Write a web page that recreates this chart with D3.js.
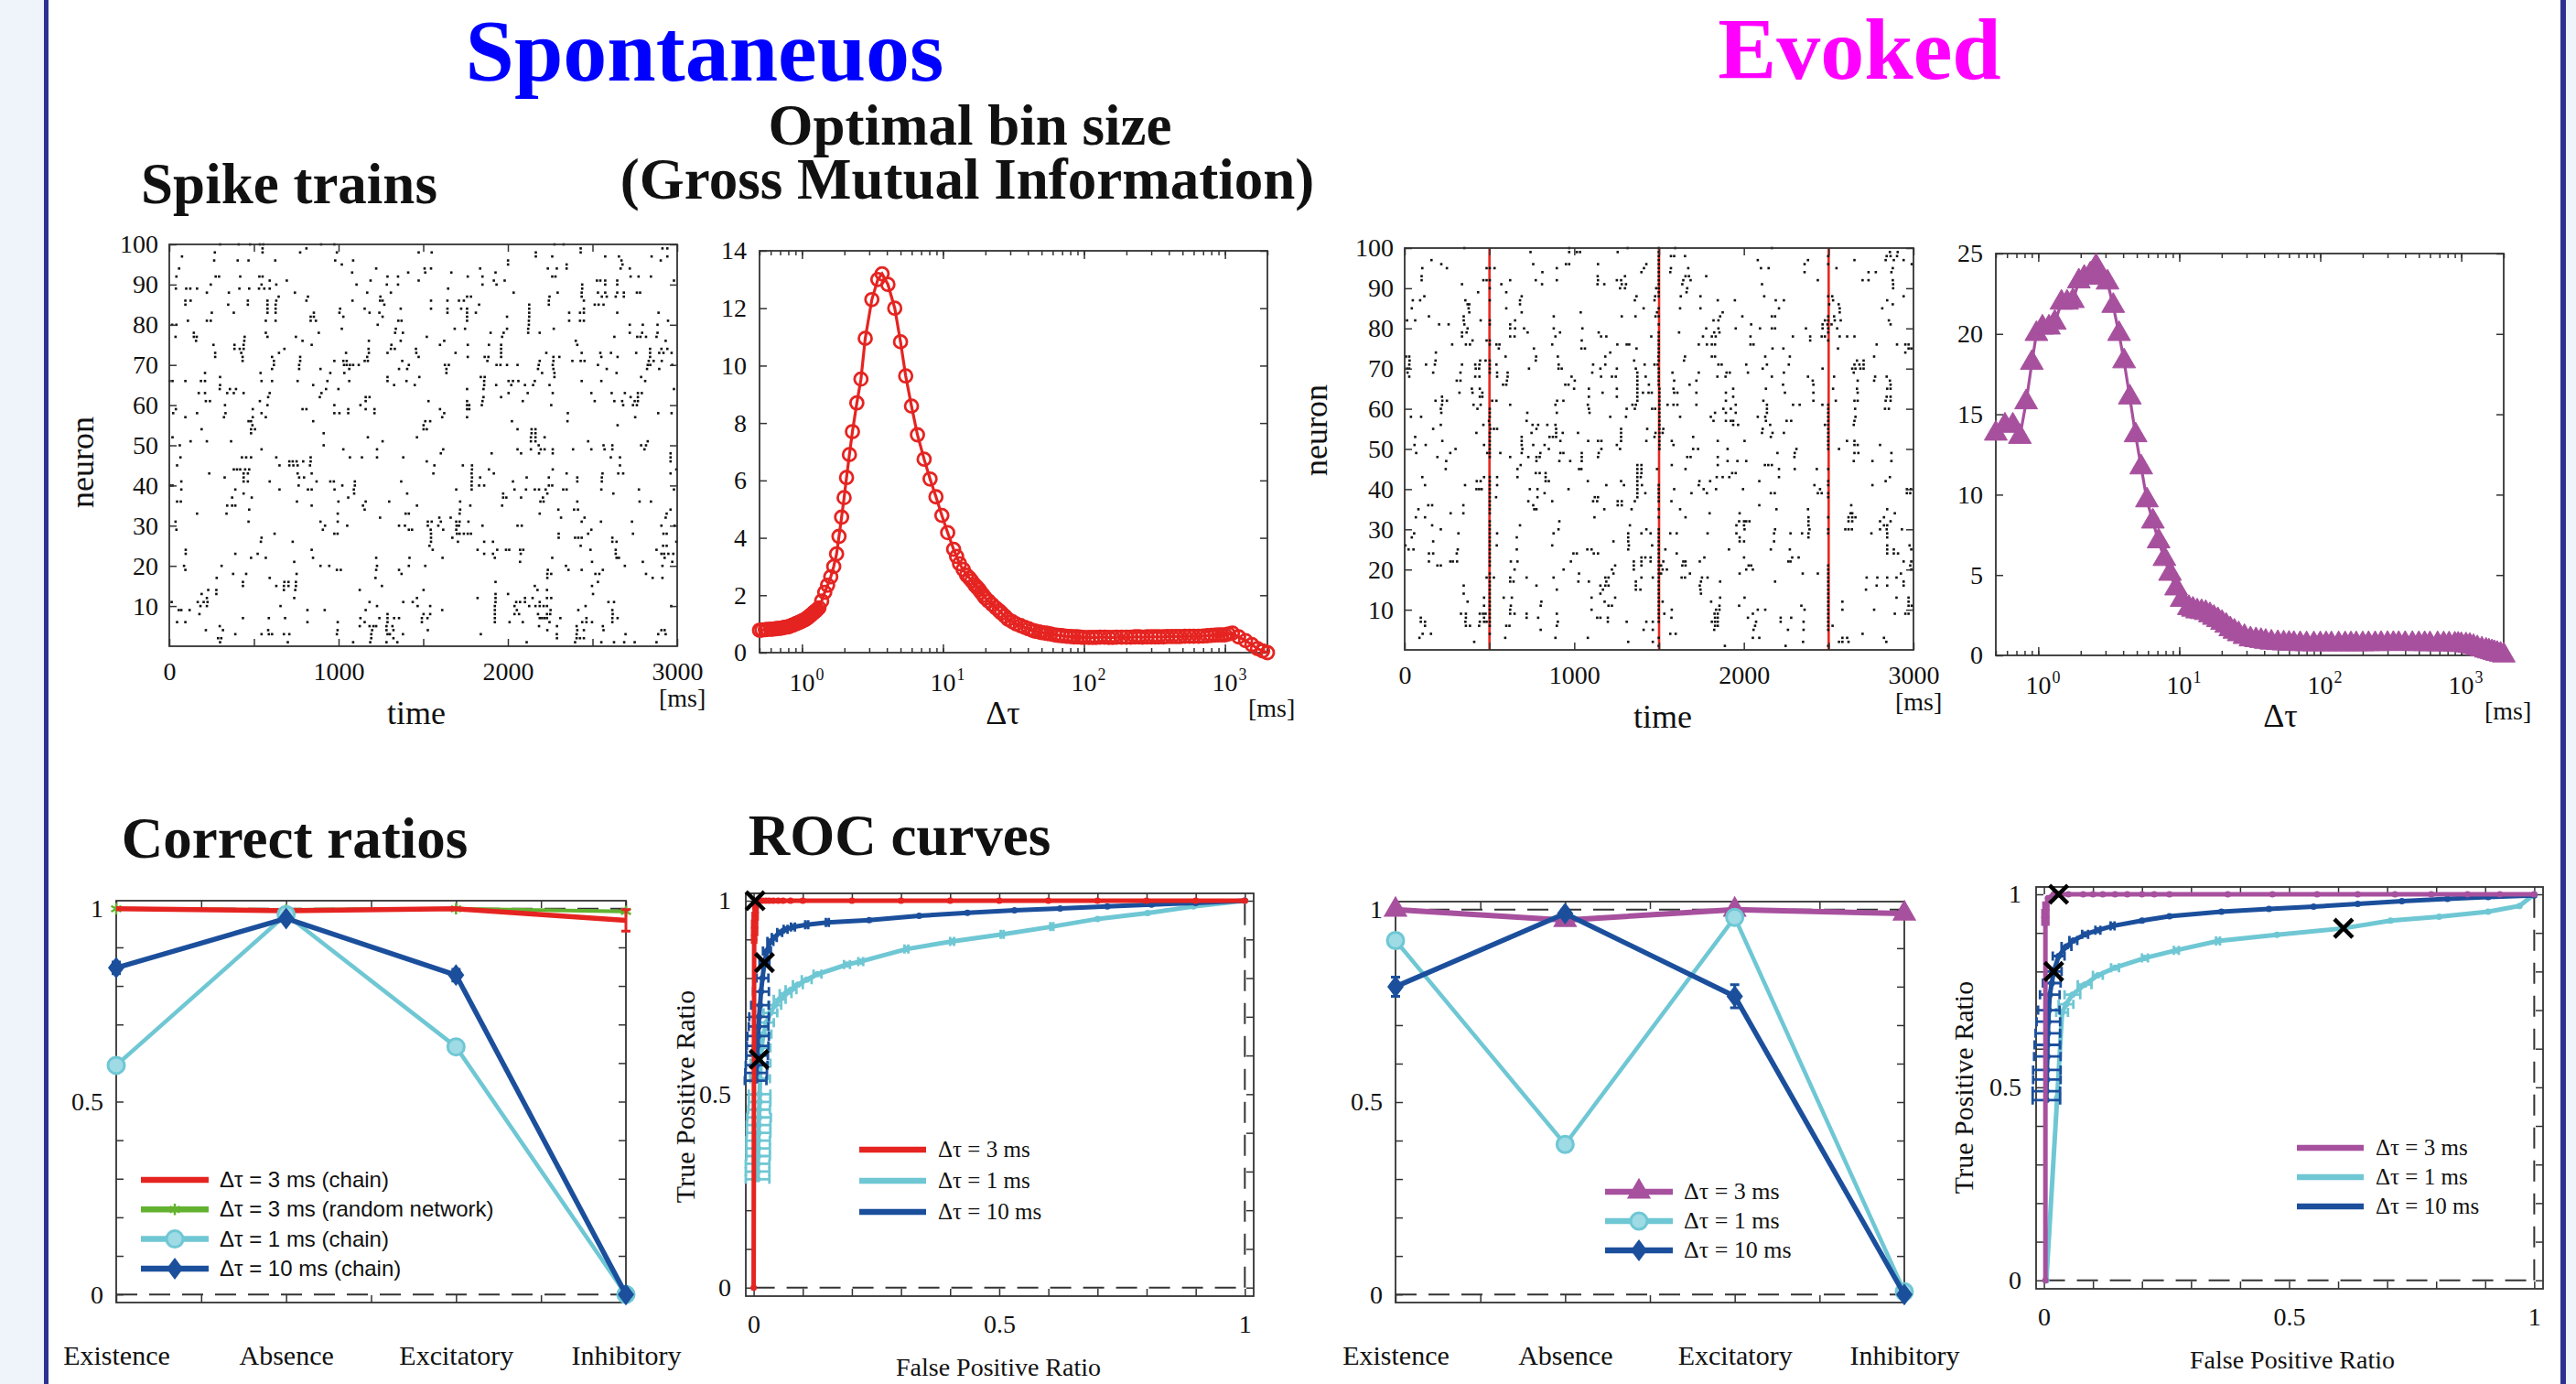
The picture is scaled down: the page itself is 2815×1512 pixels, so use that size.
<!DOCTYPE html>
<html>
<head>
<meta charset="utf-8">
<script src="https://cdn.jsdelivr.net/npm/d3@7"></script>
<style>
  body { margin: 0; background: #fff; }
  svg { display: block; }
</style>
</head>
<body>
<div id="fig"></div>
<script>
// ---------- data ----------
// spike trains: [neuron, [spike times in ms]]
const spontSpikes = [
  [100,[300,410,477,535,555,897,975,2275,2329]],
  [99,[551,810,2430,2913,2942]],
  [98,[269,551,773,990,1473,1550,2165,2430]],
  [97,[75,2165,2262,2575,2656,2849,2942]],
  [96,[265,404,468,626,980,1086,2001,2671,2903]],
  [95,[1019,2001,2347,2677]],
  [94,[58,1222,1508,1546,1836,2236,2289,2347,2666,2720]],
  [93,[1080,1411,1512,1666,1927]],
  [92,[42,274,294,419,532,551,1289,1351,1763,1850,2262,2281,2725,2772,2845]],
  [91,[593,694,1189,1473,1917,1981,2526,2546,2575,2646,2981]],
  [90,[245,545,632,1106,1285,1351,1850,1933,2439,2575,2646]],
  [89,[39,100,124,164,414,472,530,561,593,1647,2439]],
  [88,[222,352,742,1169,1309,2034,2294,2436,2532,2575,2646,2685,2762,2781]],
  [87,[646,819,1247,1759,1782,2246,2436,2555,2584,2637,2685]],
  [86,[95,126,464,580,632,810,1082,1245,1260,1546,1643,1711,1740,2242,2449]],
  [85,[95,348,464,580,628,1270,1830,2126,2242,2513,2536,2565]],
  [84,[580,628,1009,1154,1367,1546,1643,1724,1759,2126,2449]],
  [83,[251,381,580,628,854,1005,1183,1241,1643,1759,1811,2126,2362,2426,2449,2646,2890]],
  [82,[835,854,1028,1260,1759,1995,2126]],
  [81,[110,222,245,570,628,835,866,1353,1372,1759,2124,2362,2426,2449,2946]],
  [80,[17,42,1231,2124,2720,2797,2884]],
  [79,[1019,1338,1686,1747,1995,2120,2271]],
  [78,[145,570,883,1334,1380,1898,1975,2120,2188,2720,2793,2884]],
  [77,[37,145,162,445,580,748,1521,1966,2629,2764,2783,2816,2878]],
  [76,[158,443,787,1179,1367,1624,2401,2932]],
  [75,[261,385,439,841,1312,1599,1763,1888,1960,2410]],
  [74,[385,416,439,680,1177,1309,1332,1457,1960,2840,2907,2942]],
  [73,[271,425,648,1044,1179,1289,1459,1691,1960,2227,2436,2546,2609,2758,2840,2894,2919,2967]],
  [72,[271,433,607,773,1169,1473,1763,1863,1885,1960,2269,2304,2552,2648,2840]],
  [71,[433,618,773,975,1028,1048,1154,1173,1376,1879,2188,2269,2381,2430,2453,2832,2861,2909]],
  [70,[618,767,1032,1048,1067,1086,1119,1415,1628,1651,1933,1956,1995,2057,2182,2265,2532,2826,2841,2971]],
  [69,[607,767,893,1063,1357,1405,1637,2178,2269,2584,2822,2894]],
  [68,[211,539,951,1034,1637,2202,2275,2642]],
  [67,[300,1289,1477,1840,1863,2275,2787]],
  [66,[2,19,95,187,211,545,607,758,934,1063,1289,1401,1860,2004,2030,2062,2159,2436,2552,2811]],
  [65,[300,850,1328,1450,1860,1931,2020,2101,2149,2246]],
  [64,[298,358,394,926,999,1759,1856,2981]],
  [63,[174,211,342,381,439,593,899,2004,2117,2265,2493,2613,2691,2768,2791]],
  [62,[584,889,1160,1183,1856,1960,2725,2768]],
  [61,[216,240,535,1160,1531,1759,1850,2088,2513,2629,2675,2749,2768]],
  [60,[329,580,975,1129,1759,1772,1846,2256,2681,2739,2762]],
  [59,[39,493,787,810,1057,1160,1212,1599,1759,1772]],
  [58,[23,164,332,545,975,1005,1057,1212,1624,2354,2888,2967]],
  [57,[95,323,493,570,1612,1759,2752]],
  [56,[468,483,850,1512,1541,2024,2352]],
  [55,[491,1502,2648]],
  [54,[191,483,506,1502,1521,2057,2140,2163]],
  [53,[483,912,2140,2163]],
  [52,[19,1173,1463,2136,2163,2217]],
  [51,[126,222,365,1260,2136,2163,2474,2826]],
  [50,[62,912,2182,2565,2617,2787,2816]],
  [49,[545,1028,1227,1618,2057,2136,2194,2217,2265,2385,2493,2571,2617,2807]],
  [48,[1604,1904,2078,2184,2265,2961]],
  [47,[66,429,454,483,632,835,1067,1138,1227,1382,2608,2662,2961]],
  [46,[709,729,752,791,835,1521,2961]],
  [45,[46,651,709,733,758,831,1566,1734,1788,2662]],
  [44,[381,400,419,448,472,1788,1888,2265,2995]],
  [43,[236,439,464,758,841,1560,1786,1917,2347,2559,2652,2681,2961]],
  [42,[327,439,767,796,1788,1836,2111,2242,2410,2555]],
  [41,[71,439,464,593,870,951,972,1096,1370,1786,2030,2410,2555]],
  [40,[4,19,764,1022,1096,1786,1830,1860,2242,2262]],
  [39,[71,390,651,819,841,976,1090,1695,1786,2039,2107,2159,2184,2223,2327,2347,2552,2774,2981]],
  [38,[439,1092,1405,1972,2233,2623]],
  [37,[371,487,1057,1972,1991,2078,2207]],
  [36,[46,68,754,999,1160,1299,1718,2192,2211,2410,2778,2845]],
  [35,[342,371,390,841,1144,1463,1778,1966]],
  [34,[472,1154,1718,2298,2391,2414,2961]],
  [33,[164,338,995,1396,1415,1715,2188,2938]],
  [32,[1245,1595,1662,2314,2453,2932]],
  [31,[37,468,893,995,1527,1550,1604,1695,1715,1767,2436,2550,2733]],
  [30,[920,1051,1357,1392,1527,1589,1697,1711,1850,2057,2082,2907,2985]],
  [29,[42,907,1415,1434,1544,1618,1695,2493]],
  [28,[622,975,994,1546,1699,1715,1740,1763,1782,2300,2474,2739,2919,2938]],
  [27,[545,1546,1672,2300,2397,2416,2436,2617]],
  [26,[541,729,1546,1705,1860,1912,2617,2642,2995]],
  [25,[1537,2430,2917,2938]],
  [24,[97,841,1556,1821,1937,1989,2008,2072,2091,2488,2637,2878]],
  [23,[97,390,522,1860,1912,2076,2637,2907,2923,2948,2977]],
  [22,[483,570,849,1222,1419,1614,1923,2262,2642,2656,2926]],
  [21,[738,2072,2497,2797,2971]],
  [20,[87,309,893,945,1227,1415,1512,2343,2691,2913]],
  [19,[95,990,1013,1222,1357,2236,2358,2436,2561]],
  [18,[377,454,752,1372,2233,2256,2517,2540,2816]],
  [17,[280,593,1218,2233,2855,2913]],
  [16,[435,680,704,748,1927,2532]],
  [15,[435,632,677,704,748,1256,2159,2497]],
  [14,[230,278,677,744,1125,1502,2175,2231]],
  [13,[191,278,1927,2001,2503]],
  [12,[222,738,1463,1821,1927,2101,2146,2231,2256]],
  [11,[14,168,203,226,1183,1382,1438,1927,2049,2072,2101,2188,2594,2627]],
  [10,[184,222,657,1227,1467,1541,1923,2039,2126,2163,2188,2211,2231,2459,2965]],
  [9,[56,71,120,816,918,1160,1612,1923,2053,2252,2416,2617]],
  [8,[178,1289,1502,1541,1923,2039,2066,2178,2231,2250,2619]],
  [7,[435,588,684,1129,1241,1289,1328,1357,1492,1525,1923,2188,2202,2217,2231,2310,2464,2617,2648]],
  [6,[46,95,816,995,1154,1289,1492,1923,2010,2088,2246,2439,2464,2497,2617]],
  [5,[298,1125,1183,1206,1222,1283,1318,2184,2290,2406,2561]],
  [4,[216,317,584,994,1198,1283,1324,1527,2233,2410,2449,2565,2907,2926]],
  [3,[390,545,588,607,677,709,990,1193,1289,1303,1380,1840,2289,2406,2695,2888,2932]],
  [2,[288,307,1193,1324,2290,2406,2426,2449]],
  [1,[300,700,1086,1187,1283,1347,2111,2397,2552,2627,2687,2749,2878]]
];

const evokedSpikes = [
  [100,[352,970,1314,1498,1595,2165]],
  [99,[742,970,1015,1034,1256,1498,2861,2907]],
  [98,[1498,1570,1589,1653,2497,2842,2865,2903]],
  [97,[158,1498,2082,2378,2652,2836,2884,2942]],
  [96,[216,758,951,970,1140,1425,1498,2358,2497,2990]],
  [95,[104,249,483,502,530,897,1411,1498,1570,1672,2101,2146,2546,2878]],
  [94,[812,1396,1498,1566,2358,2735,2778,2870]],
  [93,[100,1138,1299,1498,1656,1676,1778]],
  [92,[100,464,483,502,622,773,897,1140,1251,1276,1498,1643,1686,2436,2700,2735,2878]],
  [91,[338,570,810,1137,1177,1280,1305,1498,1637,2107,2880]],
  [90,[502,1270,1299,1483,1498,1666,2880]],
  [89,[433,599,1498,1662]],
  [88,[116,690,1367,1477,1498,1628,1744,2120,2497,2521,2942]],
  [87,[48,91,358,502,680,1357,1473,1846,1947,2188,2236,2526,2845]],
  [86,[371,381,680,2503,2559,2878]],
  [85,[42,377,599,1409,1498,1624,1744,2207,2565,2816]],
  [84,[381,690,1038,1488,1875,2565]],
  [83,[143,348,879,1280,1361,1479,1498,1860,1991,2165,2184,2497,2532]],
  [82,[14,62,348,448,502,651,1821,1850,2478,2497,2536,2571,2855]],
  [81,[203,259,352,502,622,1498,2043,2464,2493,2517,2865]],
  [80,[371,622,651,704,879,1048,1778,1850,1952,2095,2165,2184,2366,2464,2497,2550]],
  [79,[338,365,725,916,1144,1498,1618,1825,1856,2497]],
  [78,[338,622,648,889,1158,1189,1454,1498,1759,1811,1834,2039,2289,2391,2459,2478,2565,2609,2652]],
  [77,[400,483,502,1044,1498,2391,2497]],
  [76,[280,361,385,502,541,559,870,1254,1309,1324,1498,1734,1782,1811,1830,2039,2057,2783,2903,2952,2971]],
  [75,[555,762,1042,1063,1367,1498,2169,2233,2555,2971,2987]],
  [74,[184,1212,1498,2952]],
  [73,[8,27,595,775,903,1183,1496,1653,1811,1830,2126,2271,2768]],
  [72,[29,182,445,477,502,773,1353,1498,1647,2667,2706]],
  [71,[27,126,178,338,416,441,502,541,908,1111,1183,1415,1473,1492,1850,1869,2014,2136,2265,2652,2681,2706]],
  [70,[14,27,419,439,502,733,907,926,1154,1251,1363,1498,2111,2464,2639,2658,2687,2706]],
  [69,[17,168,329,502,545,607,1106,1372,1498,1579,1734,1898,1917,2024,2236,2648]],
  [68,[27,416,441,545,607,984,1158,1222,1245,1372,1421,1498,1844,1892,2165,2378,2532,2774,2842]],
  [67,[307,329,603,1003,1372,1498,1589,1720,2406,2671,2768,2861]],
  [66,[580,599,947,966,1372,1440,1498,1680,2231,2410,2865]],
  [65,[396,443,999,1086,1251,1372,1502,1585,1937,2130,2526,2667,2845,2865]],
  [64,[323,400,458,1167,1372,1405,1438,1457,1502,1589,1608,1720,1894,2242,2410,2671]],
  [63,[220,443,458,1086,1251,1372,1502,1937,2842,2865]],
  [62,[182,222,249,516,541,899,936,1372,1502,1894,2115,2410,2542,2652,2671,2836,2865]],
  [61,[220,406,448,622,889,1080,1343,1363,1502,1550,1585,1608,1720,1952,2136,2290,2329,2463,2497]],
  [60,[213,429,502,1086,1309,1357,1459,1477,1502,1879,1923,2136,2497,2656,2832,2855]],
  [59,[216,502,723,897,1090,1502,1830,1894,1952,2136,2497]],
  [58,[37,97,502,1212,1305,1502,1624,1805,2082,2126,2497,2658]],
  [57,[497,719,1502,1821,1894,1923,1937,2130,2252,2279,2497,2652]],
  [56,[213,464,502,754,787,841,889,1502,1937,1966,2155,2478,2497,2648]],
  [55,[168,506,526,545,777,893,1276,1430,1502,1525,2111,2497]],
  [54,[423,502,748,893,932,1022,1276,1479,1502,1521,2107,2169,2236,2497]],
  [53,[62,502,690,854,874,893,1276,1473,1502,1701,2159,2497]],
  [52,[222,502,690,918,1082,1140,1160,1276,1425,1502,1575,1846,2004,2497,2608,2652]],
  [51,[58,124,468,502,690,758,825,1251,1502,1585,2497,2652,2671,2803]],
  [50,[300,502,694,850,1160,1270,1502,1701,1730,1904,2310,2497,2561]],
  [49,[68,269,487,502,564,690,800,918,936,1044,1144,2198,2300,2652,2675,2870]],
  [48,[193,502,622,729,777,796,1044,1140,1666,1686,1846,2298]],
  [47,[245,777,912,976,1044,1904,1962,2014,2648,2758,2870]],
  [46,[684,1372,1396,1575,1846,2124,2144,2165]],
  [45,[242,665,1028,1042,1372,1396,1488,1656,2207,2300,2430,2497]],
  [44,[773,796,831,1372,1396,1931,1952]],
  [43,[104,468,502,545,665,831,1372,1392,1840,1875,1914,2207,2861]],
  [42,[425,448,502,831,850,1080,1276,1372,1738,1801,2091,2497,2836]],
  [41,[120,356,502,545,1189,1293,1372,1399,1498,1734,2416,2497,2758]],
  [40,[423,439,454,502,738,783,966,1372,1498,1589,1763,1836,1995,2449,2961,2985]],
  [39,[502,825,1372,1419,1498,1691,1782,2159,2182,2436,2459,2497,2961,2981]],
  [38,[502,539,783,1121,1140,1372,1498,2497]],
  [37,[502,729,870,1111,1135,1256,1280,1357,1498,1573]],
  [36,[139,162,346,502,758,1256,1280,2091,2633]],
  [35,[81,502,764,777,1177,1338,1498,1624,2192,2378,2845]],
  [34,[271,346,502,1798,1975,2629,2639,2890]],
  [33,[66,120,1119,1498,1656,2381,2497,2617,2639,2658,2826]],
  [32,[502,912,1972,2001,2014,2033,2381,2617,2639,2803,2865]],
  [31,[162,502,680,1328,1956,2001,2381,2826,2845]],
  [30,[213,502,907,1425,1498,2004,2184,2387,2497,2598,2617,2637,2803,2842,2932]],
  [29,[56,317,502,545,878,1318,1396,1450,1498,1566,1604,1786,1956,2178,2275,2343,2381,2497,2752,2845]],
  [28,[42,502,661,1318,1498,1975,2381,2845]],
  [27,[168,502,1231,1318,1498,1975,2001,2178]],
  [26,[4,502,543,870,1322,1459,1498,2845,2977]],
  [25,[23,52,313,502,661,1077,1102,1318,1498,1537,1912,2159,2271,2845,2884,2987]],
  [24,[143,168,307,502,995,1015,1115,1140,1498,1604,2845,2884,2909]],
  [23,[502,1396,1419,1450,1498,1767,2001,2285,2323]],
  [22,[143,269,284,309,502,626,665,980,1351,1396,1450,1498,1525,1643,1656,1740,2262,2275,2942,2987]],
  [21,[193,213,502,1241,1351,1396,1498,1512,1637,1656,2028,2043,2497,2981]],
  [20,[648,937,1222,1351,1498,1521,1546,2014,2053,2497,2987]],
  [19,[502,1028,1231,1498,1512,1682,1975,2347,2436,2497,2926]],
  [18,[483,502,526,622,719,878,1183,1202,1396,1463,1498,1633,1653,1753,1786,2497,2724,2787,2845,2900]],
  [17,[502,622,642,1024,1086,1189,1363,1498,1747,1860,2184,2497,2942]],
  [16,[348,502,777,1154,1183,1202,1363,1498,1740,2497,2783,2845,2942]],
  [15,[502,897,1169,1363,1390,1498,1744,2497,2720]],
  [14,[348,502,1154,1498,1747,2497]],
  [13,[468,502,584,632,1102,1241,1498,1860,2004,2497,2900,2971]],
  [12,[371,502,806,1179,1498,1521,1807,2497,2581,2971]],
  [11,[468,502,626,802,1202,1222,1498,1856,1972,2339,2497,2971,2990]],
  [10,[502,622,1102,1498,1575,1836,1856,2082,2126,2358,2497,2581,2768]],
  [9,[332,361,443,462,477,502,622,648,719,897,1498,1531,1827,1846,2053,2497,2890,2952,2971]],
  [8,[95,361,468,502,719,787,1135,1154,1198,1498,1573,1830,1846,2024,2217,2279,2497]],
  [7,[95,120,358,443,468,483,502,903,1198,1309,1425,1463,1498,1811,1830,1846,2072,2217,2352,2497]],
  [6,[120,361,385,439,502,599,618,897,1830,1846,2066,2497,2523]],
  [5,[802,1409,1463,1825,2057,2260,2352,2497]],
  [4,[106,155,502,1566,1598,2700]],
  [3,[87,593,889,1080,1498,2053,2091,2581,2609,2826]],
  [2,[410,1318,1463,2349,2561,2581,2617,2840]],
  [1,[1498,1888,2246,2497]]
];
const stimulusTimes = [500, 1500, 2500];

// mutual information vs bin size: [delta tau (ms), MI]
const miSpont = [
  [0.5,0.78],[0.52,0.79],[0.55,0.8],[0.57,0.81],[0.6,0.82],[0.62,0.82],[0.65,0.83],[0.67,0.84],
  [0.7,0.85],[0.72,0.86],[0.75,0.88],[0.77,0.89],[0.8,0.9],[0.82,0.92],[0.85,0.95],[0.87,0.97],
  [0.9,1.0],[0.92,1.02],[0.95,1.05],[0.97,1.07],[1.0,1.1],[1.02,1.12],[1.05,1.15],[1.07,1.18],
  [1.1,1.22],[1.12,1.25],[1.15,1.3],[1.17,1.33],[1.2,1.38],[1.22,1.41],[1.25,1.45],[1.28,1.5],
  [1.32,1.56],[1.38,1.8],[1.45,2.1],[1.52,2.35],[1.6,2.64],[1.68,3.0],[1.76,3.44],[1.83,4.05],
  [1.91,4.72],[1.99,5.4],[2.07,6.1],[2.17,6.9],[2.28,7.7],[2.45,8.7],[2.62,9.53],[2.81,10.95],
  [3.13,12.3],[3.45,13.0],[3.7,13.2],[4.07,12.83],[4.55,12.0],[5.0,10.83],[5.44,9.64],[5.98,8.59],
  [6.59,7.59],[7.35,6.74],[8.1,6.05],[8.92,5.43],[9.82,4.78],[10.8,4.18],[11.9,3.6],[12.5,3.35],
  [13.1,3.1],[13.9,2.9],[14.7,2.7],[15.4,2.6],[16,2.5],[16.8,2.36],[17.4,2.28],[18,2.2],[18.6,2.1],
  [19.3,2.0],[20,1.9],[21,1.8],[22.3,1.68],[23.7,1.56],[25,1.46],[26,1.38],[27.5,1.27],[29,1.16],
  [31,1.08],[33,1.0],[35.5,0.94],[38,0.88],[40.5,0.83],[43,0.78],[45,0.75],[48,0.72],[50,0.7],
  [53,0.68],[55,0.67],[58,0.65],[62,0.62],[66,0.6],[70,0.59],[75,0.57],[80,0.56],[85,0.55],
  [90,0.55],[95,0.54],[100,0.53],[108,0.53],[115,0.53],[122,0.53],[130,0.54],[140,0.54],[150,0.53],
  [160,0.53],[170,0.54],[185,0.54],[200,0.54],[215,0.54],[230,0.55],[245,0.55],[260,0.54],[280,0.55],
  [300,0.55],[320,0.55],[340,0.55],[365,0.55],[390,0.56],[420,0.56],[450,0.56],[480,0.56],[520,0.57],
  [560,0.57],[600,0.57],[650,0.57],[700,0.58],[750,0.59],[800,0.6],[850,0.61],[900,0.62],[950,0.62],
  [1000,0.62],[1060,0.65],[1130,0.68],[1250,0.55],[1400,0.42],[1550,0.28],[1700,0.14],[1850,0.06],[2000,0.0]
];
const miEvoked = [
  [0.5,13.8],[0.58,14.3],[0.66,14.3],[0.74,13.6],[0.82,15.75],[0.9,18.2],[0.97,20.0],[1.07,20.4],
  [1.19,20.4],[1.31,20.7],[1.46,21.95],[1.6,21.95],[1.76,22.05],[1.94,23.27],[2.12,23.5],[2.34,23.7],
  [2.57,24.2],[2.82,23.5],[3.1,23.2],[3.4,21.75],[3.74,20.0],[4.06,18.3],[4.46,16.05],[4.9,13.7],
  [5.37,11.7],[5.9,9.65],[6.5,8.33],[7.14,7.1],[7.85,6.0],[8.6,5.08],[9.5,4.17],[10.4,3.46],
  [11.7,2.95],[12.5,2.85],[13.4,2.74],[14.4,2.7],[15.4,2.64],[16.5,2.5],[17.6,2.34],[18.8,2.2],
  [20.1,2.03],[21.5,1.85],[23,1.63],[24.6,1.48],[26.4,1.32],[29,1.15],[32,1.0],[35,0.95],[38,0.9],
  [41,0.85],[45,0.8],[50,0.77],[55,0.75],[60,0.73],[65,0.72],[72,0.71],[80,0.7],[90,0.7],[100,0.7],
  [110,0.7],[120,0.7],[135,0.7],[150,0.7],[165,0.7],[180,0.7],[200,0.7],[220,0.71],[245,0.71],
  [270,0.72],[300,0.72],[330,0.72],[360,0.72],[400,0.72],[450,0.72],[500,0.71],[550,0.71],[600,0.7],
  [680,0.7],[750,0.7],[820,0.69],[900,0.68],[950,0.67],[1000,0.65],[1080,0.63],[1150,0.6],[1220,0.53],
  [1300,0.45],[1400,0.37],[1500,0.3],[1570,0.25],[1650,0.2],[1720,0.15],[1800,0.1],[1900,0.05],[2000,0.0]
];

// correct ratios
const categories = ['Existence', 'Absence', 'Excitatory', 'Inhibitory'];
const spontChain3 = [1.0, 0.995, 1.0, 0.97];
const spontChain3Err = [0, 0, 0, 0.028];
const spontRandom3 = [1.0, 0.997, 1.0, 0.993];
const spontChain1 = [0.594, 0.985, 0.642, 0.0];
const spontChain1Err = [0.01, 0.005, 0.01, 0];
const spontChain10 = [0.847, 0.975, 0.828, 0.0];
const spontChain10Err = [0.015, 0.005, 0.015, 0];
const evoked3 = [1.0, 0.973, 1.0, 0.99];
const evoked1 = [0.92, 0.39, 0.98, 0.007];
const evoked1Err = [0.01, 0.01, 0.005, 0];
const evoked10 = [0.8, 0.99, 0.775, 0.0];
const evoked10Err = [0.025, 0.005, 0.03, 0];

// ROC curves: [false positive ratio, true positive ratio, horizontal error]
const rocSpont3 = [
  [0,0,0],[0.001,0.9,0.004],[0.002,0.92,0.005],[0.002,0.94,0.005],[0.003,0.96,0.005],[0.004,0.98,0.004],
  [0.006,0.995,0],[0.012,1,0],[0.018,1,0],[0.025,1,0],[0.032,1,0],[0.04,1,0],[0.05,1,0],[0.06,1,0],
  [0.075,1,0],[0.1,1,0],[0.2,1,0],[0.3,1,0],[0.4,1,0],[0.5,1,0],[0.6,1,0],[0.7,1,0],[0.8,1,0],[0.9,1,0],[1,1,0]
];
const rocSpont1 = [
  [0.008,0.28,0.024],[0.008,0.3,0.024],[0.008,0.32,0.024],[0.009,0.34,0.024],[0.009,0.36,0.024],
  [0.009,0.38,0.024],[0.01,0.4,0.024],[0.01,0.42,0.024],[0.011,0.44,0.024],[0.011,0.46,0.022],
  [0.012,0.48,0.022],[0.012,0.5,0.022],[0.013,0.54,0.02],[0.014,0.58,0.02],[0.016,0.62,0.018],
  [0.02,0.655,0.016],[0.026,0.685,0.015],[0.034,0.71,0.014],[0.043,0.73,0.013],[0.053,0.745,0.012],
  [0.065,0.76,0.012],[0.076,0.77,0.011],[0.09,0.783,0.01],[0.108,0.796,0.01],[0.13,0.81,0.008],
  [0.19,0.835,0.006],[0.218,0.843,0.005],[0.311,0.875,0.004],[0.404,0.895,0.004],[0.506,0.913,0.003],
  [0.607,0.933,0.003],[0.7,0.953,0],[0.802,0.968,0],[0.895,0.985,0],[1,1,0]
];
const rocSpont10 = [
  [0.004,0.535,0.022],[0.005,0.555,0.022],[0.006,0.575,0.022],[0.007,0.6,0.022],[0.008,0.625,0.022],
  [0.009,0.65,0.022],[0.01,0.675,0.02],[0.011,0.7,0.02],[0.013,0.73,0.018],[0.015,0.765,0.016],
  [0.018,0.8,0.012],[0.022,0.84,0.01],[0.027,0.87,0.008],[0.034,0.895,0.006],[0.042,0.905,0.005],
  [0.053,0.918,0.005],[0.065,0.926,0.004],[0.08,0.932,0.004],[0.108,0.938,0.003],[0.15,0.944,0.003],
  [0.235,0.95,0],[0.337,0.961,0],[0.435,0.969,0],[0.531,0.975,0],[0.624,0.98,0],[0.72,0.985,0],
  [0.81,0.99,0],[0.9,0.994,0],[1,1,0]
];
const rocSpontOptimal = [[0.003, 1.0], [0.022, 0.84], [0.011, 0.59]];

const rocEvoked3 = [
  [0.003,0,0],[0.003,0.93,0.006],[0.003,0.95,0.006],[0.004,0.97,0.005],[0.008,0.99,0],[0.02,1,0],
  [0.03,1,0],[0.05,1,0],[0.08,1,0],[0.1,1,0],[0.12,1,0],[0.145,1,0],[0.17,1,0],[0.2,1,0],[0.225,1,0],
  [0.256,1,0],[0.375,1,0],[0.466,1,0],[0.557,1,0],[0.64,1,0],[0.716,1,0],[0.79,1,0],[0.864,1,0],[0.93,1,0],[1,1,0]
];
const rocEvoked1 = [
  [0.005,0,0],[0.027,0.473,0],[0.037,0.694,0.012],[0.045,0.715,0.015],[0.058,0.74,0.016],
  [0.083,0.766,0.014],[0.11,0.79,0.01],[0.145,0.81,0.008],[0.206,0.835,0.006],[0.27,0.855,0.005],
  [0.355,0.879,0.004],[0.475,0.895,0],[0.611,0.912,0],[0.707,0.932,0],[0.806,0.942,0],
  [0.906,0.955,0],[0.97,0.97,0],[1,1,0]
];
const rocEvoked10 = [
  [0.005,0.467,0.028],[0.005,0.49,0.028],[0.006,0.52,0.028],[0.006,0.545,0.028],[0.007,0.58,0.027],
  [0.007,0.61,0.026],[0.008,0.64,0.025],[0.009,0.67,0.024],[0.01,0.7,0.022],[0.012,0.74,0.02],
  [0.016,0.77,0.018],[0.02,0.8,0.016],[0.03,0.84,0.012],[0.046,0.865,0.01],[0.06,0.88,0.008],
  [0.084,0.896,0.006],[0.11,0.907,0.005],[0.14,0.918,0.004],[0.2,0.932,0],[0.256,0.943,0],
  [0.362,0.955,0],[0.459,0.962,0],[0.55,0.968,0],[0.64,0.975,0],[0.73,0.982,0],[0.823,0.988,0],
  [0.906,0.993,0],[1,0.997,0]
];
const rocEvokedOptimal = [[0.03, 1.0], [0.02, 0.8], [0.611, 0.912]];

// ---------- drawing ----------
const W = 2815, H = 1512;
const serif = "'Liberation Serif','Times New Roman',serif";
const sans = "'Liberation Sans',Arial,sans-serif";
const RED = '#e52421', GREEN = '#62b22f', CYAN = '#6fc7d4', BLUE = '#1b4f9c', PURPLE = '#a7509e';
const AX = '#333';

const svg = d3.select('#fig').append('svg').attr('width', W).attr('height', H);
svg.append('rect').attr('width', W).attr('height', H).attr('fill', '#fff');
svg.append('rect').attr('x', 0).attr('width', 48).attr('height', H).attr('fill', '#eef4f9');
svg.append('rect').attr('x', 48).attr('width', 5).attr('height', H).attr('fill', '#2d3192');
svg.append('rect').attr('x', 2804).attr('width', 11).attr('height', H).attr('fill', '#eef4f9');
svg.append('rect').attr('x', 2798).attr('width', 6).attr('height', H).attr('fill', '#2d3192');

function txt(x, y, s, size, opts = {}) {
  return svg.append('text').attr('x', x).attr('y', y).text(s)
    .attr('font-family', opts.font || serif).attr('font-size', size)
    .attr('font-weight', opts.bold ? 'bold' : 'normal')
    .attr('fill', opts.fill || '#111')
    .attr('text-anchor', opts.anchor || 'middle');
}

// titles
txt(770, 88, 'Spontaneuos', 96, { bold: true, fill: '#0000ff' });
txt(2032, 86, 'Evoked', 96, { bold: true, fill: '#ff00ff' });
txt(1060, 158, 'Optimal bin size', 63, { bold: true });
txt(1057, 217, '(Gross Mutual Information)', 63, { bold: true });
txt(316, 222, 'Spike trains', 63, { bold: true });
txt(322, 937, 'Correct ratios', 63, { bold: true });
txt(983, 934, 'ROC curves', 63, { bold: true });

function panel(p) {
  return svg.append('g').attr('transform', `translate(${p.x},${p.y})`);
}
function styleAxis(sel, fs) {
  sel.select('.domain').remove();
  sel.selectAll('line').attr('stroke', AX).attr('stroke-width', 1.5);
  sel.selectAll('text').attr('font-family', serif).attr('font-size', fs || 28).attr('fill', '#111');
}
function frame(g, w, h) {
  g.append('rect').attr('width', w).attr('height', h)
    .attr('fill', 'none').attr('stroke', AX).attr('stroke-width', 1.8);
}
function yAxes(g, y, w, vals, fmt, pad, len) {
  g.append('g').call(d3.axisLeft(y).tickValues(vals).tickSize(-len).tickPadding(pad).tickFormat(fmt))
    .call(s => styleAxis(s));
  g.append('g').attr('transform', `translate(${w},0)`)
    .call(d3.axisRight(y).tickValues(vals).tickSize(-len).tickFormat(''))
    .call(s => styleAxis(s));
}
function xAxes(g, x, h, vals, fmt, pad, len, fs) {
  g.append('g').attr('transform', `translate(0,${h})`)
    .call(d3.axisBottom(x).tickValues(vals).tickSize(-len).tickPadding(pad).tickFormat(fmt))
    .call(s => styleAxis(s, fs));
  g.append('g').call(d3.axisTop(x).tickValues(vals).tickSize(-len).tickFormat(''))
    .call(s => styleAxis(s));
}
function rotLabel(x, y, s, size) {
  svg.append('text').attr('transform', `translate(${x},${y}) rotate(-90)`)
    .attr('text-anchor', 'middle').attr('font-family', serif).attr('font-size', size)
    .attr('fill', '#111').text(s);
}

// ----- raster panels -----
function drawRaster(p, spikes, stims, o) {
  const g = panel(p);
  const x = d3.scaleLinear().domain([0, 3000]).range([0, p.w]);
  const y = d3.scaleLinear().domain([0, 100]).range([p.h, 0]);
  if (stims) {
    g.selectAll('line.stim').data(stims).enter().append('line')
      .attr('x1', d => x(d)).attr('x2', d => x(d)).attr('y1', 0).attr('y2', p.h)
      .attr('stroke', '#e8281f').attr('stroke-width', 2.6);
  }
  const pts = spikes.flatMap(([n, ts]) => ts.map(t => [t, n]));
  g.selectAll('rect.spk').data(pts).enter().append('rect')
    .attr('x', d => x(d[0]) - 1.3).attr('y', d => y(d[1]) - 1.3)
    .attr('width', 2.6).attr('height', 2.6).attr('fill', '#111');
  frame(g, p.w, p.h);
  yAxes(g, y, p.w, d3.range(10, 101, 10), d => d, 12, 8);
  xAxes(g, x, p.h, d3.range(0, 3001, 500), d => (d % 1000 === 0 ? d : ''), 17, 8);
  txt(p.x + p.w - 20, p.y + p.h + 66, '[ms]', 28, { anchor: 'start' });
  txt(p.x + o.timeX, p.y + p.h + 85, 'time', 36);
  rotLabel(p.x + o.neuronX, p.y + o.neuronY, 'neuron', 36);
}
drawRaster({ x: 185, y: 267, w: 555, h: 439 }, spontSpikes, null, { timeX: 270, neuronX: -83, neuronY: 238 });
drawRaster({ x: 1535, y: 271, w: 556, h: 439 }, evokedSpikes, stimulusTimes, { timeX: 282, neuronX: -85, neuronY: 199 });

// ----- mutual information panels -----
function drawMI(p, data, yMax, yStep, color, kind, o) {
  const g = panel(p);
  const x = d3.scaleLog().domain([0.5, 2000]).range([0, p.w]);
  const y = d3.scaleLinear().domain([0, yMax]).range([p.h, 0]);
  frame(g, p.w, p.h);
  yAxes(g, y, p.w, d3.range(0, yMax + 0.01, yStep), d => d, 14, 8);
  const minor = [];
  [-1, 0, 1, 2, 3].forEach(k => d3.range(1, 10).forEach(m => {
    const v = m * Math.pow(10, k);
    if (v >= 0.5 && v <= 2000) minor.push(v);
  }));
  const major = [1, 10, 100, 1000];
  xAxes(g, x, p.h, minor, '', 0, 5);
  xAxes(g, x, p.h, major, '', 0, 9);
  major.forEach((v, i) => {
    g.append('text').attr('x', x(v)).attr('y', p.h + 42)
      .attr('text-anchor', 'middle').attr('font-family', serif).attr('font-size', 28)
      .attr('fill', '#111').text('10');
    g.append('text').attr('x', x(v) + 15).attr('y', p.h + 30).attr('font-family', serif)
      .attr('font-size', 18).attr('fill', '#111').text(i);
  });
  const line = d3.line().x(d => x(d[0])).y(d => y(d[1]));
  g.append('path').datum(data).attr('d', line).attr('fill', 'none')
    .attr('stroke', color).attr('stroke-width', 3.2);
  if (kind === 'circle') {
    g.selectAll('circle.m').data(data).enter().append('circle')
      .attr('cx', d => x(d[0])).attr('cy', d => y(d[1])).attr('r', 7)
      .attr('fill', 'none').attr('stroke', color).attr('stroke-width', 2.8);
  } else {
    g.selectAll('path.m').data(data).enter().append('path')
      .attr('transform', d => `translate(${x(d[0])},${y(d[1])})`)
      .attr('d', d3.symbol(d3.symbolTriangle).size(270))
      .attr('fill', color).attr('stroke', color).attr('stroke-width', 1);
  }
  txt(p.x + p.w - 21, p.y + p.h + 70, '[ms]', 28, { anchor: 'start' });
  txt(p.x + o.tauX, p.y + p.h + 78, 'Δτ', 36);
}
drawMI({ x: 830, y: 274, w: 555, h: 439 }, miSpont, 14, 2, RED, 'circle', { tauX: 266 });
drawMI({ x: 2181, y: 277, w: 555, h: 439 }, miEvoked, 25, 5, PURPLE, 'triangle', { tauX: 311 });

// ----- correct ratio panels -----
const diamondPath = 'M0,-12L9,0L0,12L-9,0Z';
function marker(g, kind, cx, cy, color) {
  if (kind === 'circle') {
    g.append('circle').attr('cx', cx).attr('cy', cy).attr('r', 9)
      .attr('fill', '#9edbe5').attr('stroke', color).attr('stroke-width', 3);
  } else if (kind === 'diamond') {
    g.append('path').attr('transform', `translate(${cx},${cy})`).attr('d', diamondPath).attr('fill', color);
  } else if (kind === 'triangle') {
    g.append('path').attr('transform', `translate(${cx},${cy})`)
      .attr('d', d3.symbol(d3.symbolTriangle).size(300)).attr('fill', color);
  } else if (kind === 'star') {
    g.append('path').attr('transform', `translate(${cx},${cy})`)
      .attr('d', d3.symbol(d3.symbolAsterisk).size(110)).attr('fill', 'none')
      .attr('stroke', color).attr('stroke-width', 2.5);
  }
}
function drawCorrect(p, series, legend) {
  const g = panel(p);
  const x = d3.scalePoint().domain(categories).range([0, p.w]);
  const xl = d3.scaleLinear().domain([0, 3]).range([0, p.w]);
  const y = d3.scaleLinear().domain([-0.021, 1.021]).range([p.h, 0]);
  [0, 1].forEach(v => g.append('line').attr('x1', 0).attr('x2', p.w).attr('y1', y(v)).attr('y2', y(v))
    .attr('stroke', AX).attr('stroke-width', 2).attr('stroke-dasharray', '23,13'));
  frame(g, p.w, p.h);
  yAxes(g, y, p.w, d3.range(0, 11).map(i => i / 10), d => ([0, 0.5, 1].includes(d) ? d : ''), 14, 8);
  xAxes(g, xl, p.h, d3.range(0, 3.01, 0.5), '', 0, 8);
  g.append('g').attr('transform', `translate(0,${p.h})`)
    .call(d3.axisBottom(x).tickSize(0).tickPadding(47))
    .call(s => styleAxis(s, 30));
  const line = d3.line().x((d, i) => x(categories[i])).y(d => y(d));
  series.forEach(s => {
    g.append('path').datum(s.values).attr('d', line).attr('fill', 'none')
      .attr('stroke', s.color).attr('stroke-width', s.width);
    if (s.err) s.values.forEach((v, i) => {
      const e = s.err[i];
      if (!e) return;
      const cx = x(categories[i]);
      g.append('path').attr('d', `M${cx},${y(v - e)}V${y(v + e)}M${cx - 5},${y(v - e)}h10M${cx - 5},${y(v + e)}h10`)
        .attr('stroke', s.color).attr('stroke-width', 3).attr('fill', 'none');
    });
    if (s.marker) s.values.forEach((v, i) => marker(g, s.marker, x(categories[i]), y(v), s.color));
  });
  legend.entries.forEach((s, i) => {
    const ly = legend.y + i * legend.dy;
    g.append('line').attr('x1', legend.x).attr('x2', legend.x + 74).attr('y1', ly).attr('y2', ly)
      .attr('stroke', s.color).attr('stroke-width', 6.5);
    if (s.marker) marker(g, s.marker, legend.x + 37, ly, s.color);
    g.append('text').attr('x', legend.x + 86).attr('y', ly + 8).text(s.label)
      .attr('font-family', legend.font).attr('font-size', legend.fs).attr('fill', '#111');
  });
}
const spontCorrSeries = [
  { label: 'Δτ = 3 ms (chain)', values: spontChain3, err: spontChain3Err, color: RED, width: 5.5 },
  { label: 'Δτ = 3 ms (random network)', values: spontRandom3, color: GREEN, width: 4, marker: 'star' },
  { label: 'Δτ = 1 ms (chain)', values: spontChain1, err: spontChain1Err, color: CYAN, width: 4.5, marker: 'circle' },
  { label: 'Δτ = 10 ms (chain)', values: spontChain10, err: spontChain10Err, color: BLUE, width: 5.5, marker: 'diamond' }
];
drawCorrect({ x: 127, y: 984, w: 557, h: 439 },
  [spontCorrSeries[1], spontCorrSeries[0], spontCorrSeries[2], spontCorrSeries[3]],
  { entries: spontCorrSeries, x: 27, y: 305, dy: 32.3, fs: 24, font: sans });
const evokedCorrSeries = [
  { label: 'Δτ = 3 ms', values: evoked3, color: PURPLE, width: 6, marker: 'triangle' },
  { label: 'Δτ = 1 ms', values: evoked1, err: evoked1Err, color: CYAN, width: 4.5, marker: 'circle' },
  { label: 'Δτ = 10 ms', values: evoked10, err: evoked10Err, color: BLUE, width: 5.5, marker: 'diamond' }
];
drawCorrect({ x: 1525, y: 985, w: 556, h: 438 }, evokedCorrSeries,
  { entries: evokedCorrSeries, x: 229, y: 317, dy: 32, fs: 26, font: serif });

// ----- ROC panels -----
function drawROC(p, series, optimal, legend) {
  const g = panel(p);
  const x = d3.scaleLinear().domain([-0.016, 1.018]).range([0, p.w]);
  const y = d3.scaleLinear().domain([-0.022, 1.019]).range([p.h, 0]);
  g.append('line').attr('x1', x(0)).attr('x2', x(1)).attr('y1', y(0)).attr('y2', y(0))
    .attr('stroke', AX).attr('stroke-width', 2).attr('stroke-dasharray', '23,13');
  g.append('line').attr('x1', x(1)).attr('x2', x(1)).attr('y1', y(0)).attr('y2', y(1))
    .attr('stroke', AX).attr('stroke-width', 2).attr('stroke-dasharray', '23,13');
  frame(g, p.w, p.h);
  const tk = d3.range(0, 11).map(i => i / 10);
  yAxes(g, y, p.w, tk, d => ([0, 0.5, 1].includes(d) ? d : ''), 16, 8);
  xAxes(g, x, p.h, tk, d => ([0, 0.5, 1].includes(d) ? d : ''), 20, 8);
  const line = d3.line().x(d => x(d[0])).y(d => y(d[1]));
  series.forEach(s => {
    g.append('path').datum(s.values).attr('d', line).attr('fill', 'none')
      .attr('stroke', s.color).attr('stroke-width', 5);
    s.values.forEach(d => {
      const cx = x(d[0]), cy = y(d[1]);
      if (d[2] > 0) {
        const x0 = x(d[0] - d[2]), x1 = x(d[0] + d[2]);
        g.append('path').attr('d', `M${x0},${cy}H${x1}M${x0},${cy - 5}v10M${x1},${cy - 5}v10`)
          .attr('stroke', s.color).attr('stroke-width', 2.8).attr('fill', 'none');
      }
      g.append('circle').attr('cx', cx).attr('cy', cy).attr('r', 3.5).attr('fill', s.color);
    });
  });
  g.selectAll('path.opt').data(optimal).enter().append('path')
    .attr('transform', d => `translate(${x(d[0])},${y(d[1])})`)
    .attr('d', d3.symbol(d3.symbolX).size(260))
    .attr('stroke', '#000').attr('stroke-width', 4.5).attr('fill', 'none');
  legend.entries.forEach((s, i) => {
    const ly = legend.y + i * legend.dy;
    g.append('line').attr('x1', legend.x).attr('x2', legend.x + 73).attr('y1', ly).attr('y2', ly)
      .attr('stroke', s.color).attr('stroke-width', 6.5);
    g.append('text').attr('x', legend.x + 86).attr('y', ly + 8).text(s.label)
      .attr('font-family', serif).attr('font-size', 25).attr('fill', '#111');
  });
}
const rocSpontSeries = [
  { label: 'Δτ = 3 ms', values: rocSpont3, color: RED },
  { label: 'Δτ = 1 ms', values: rocSpont1, color: CYAN },
  { label: 'Δτ = 10 ms', values: rocSpont10, color: BLUE }
];
drawROC({ x: 815, y: 976, w: 555, h: 440 },
  [rocSpontSeries[1], rocSpontSeries[2], rocSpontSeries[0]], rocSpontOptimal,
  { entries: rocSpontSeries, x: 124, y: 280, dy: 34 });
const rocEvokedSeries = [
  { label: 'Δτ = 3 ms', values: rocEvoked3, color: PURPLE },
  { label: 'Δτ = 1 ms', values: rocEvoked1, color: CYAN },
  { label: 'Δτ = 10 ms', values: rocEvoked10, color: BLUE }
];
drawROC({ x: 2225, y: 969, w: 554, h: 439 },
  [rocEvokedSeries[1], rocEvokedSeries[2], rocEvokedSeries[0]], rocEvokedOptimal,
  { entries: rocEvokedSeries, x: 285, y: 285, dy: 32 });

txt(1091, 1503, 'False Positive Ratio', 28);
txt(2505, 1495, 'False Positive Ratio', 28);
rotLabel(759, 1198, 'True Positive Ratio', 30);
rotLabel(2156, 1188, 'True Positive Ratio', 30);
</script>
</body>
</html>
